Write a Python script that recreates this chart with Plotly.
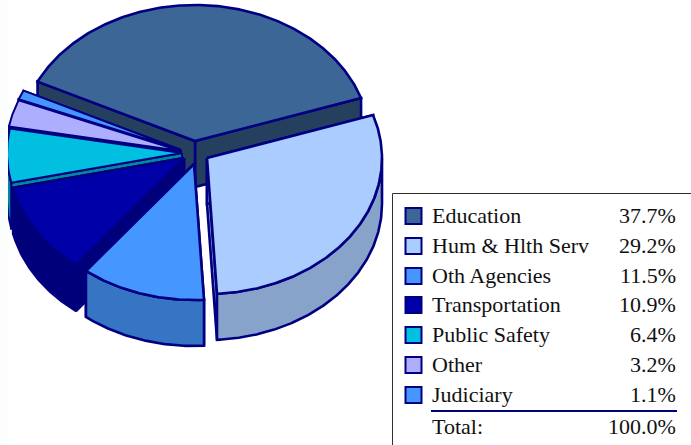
"""
Budget share by function: exploded 3D style pie with a table legend.
"""

import numpy as np
import plotly.graph_objects as go


# ==============================
# Data
# ==============================

labels = ["Education", "Hum & Hlth Serv", "Oth Agencies", "Transportation",
          "Public Safety", "Other", "Judiciary"]
shares = [37.7, 29.2, 11.5, 10.9, 6.4, 3.2, 1.1]
share_text = ["37.7%", "29.2%", "11.5%", "10.9%", "6.4%", "3.2%", "1.1%"]
total_label = "Total:"
total_text = "100.0%"

top_colors = ["#3B6696", "#AACCFF", "#4696FF", "#0000A8", "#00BFE0", "#AEAEFF", "#4696FF"]
wall_colors = ["#25405E", "#88A3C9", "#3675C3", "#00007A", "#008A9E", "#8080BE", "#3675C3"]

# where each slice's tip ends up after exploding, in page pixels
tip_x = [195, 207, 194, 184, 182, 181, 181]
tip_y = [141, 158, 164, 158, 153, 151, 150]

# ==============================
# Pie geometry
# ==============================

RX = 175
RY = 136
DEPTH = 46
START = 18.4
NAVY = "#000080"

# Education runs counter-clockwise from START, the legend order then
# continues clockwise from START, so walk the list backwards after it
angles = {}
a = START
for i in [0, 6, 5, 4, 3, 2, 1]:
    angles[labels[i]] = (a, a + shares[i] * 3.6)
    a += shares[i] * 3.6


def arc(i, t0, t1):
    t = np.radians(np.linspace(t0, t1, max(int(abs(t1 - t0)) * 2, 2)))
    return tip_x[i] + RX * np.cos(t), tip_y[i] - RY * np.sin(t)


def add_poly(fig, xs, ys, fill, width=2):
    fig.add_trace(go.Scatter(
        x=np.append(xs, xs[0]),
        y=np.append(ys, ys[0]),
        mode="lines",
        fill="toself",
        fillcolor=fill,
        line=dict(color=NAVY, width=width),
        hoverinfo="skip",
        showlegend=False,
    ))


def add_slice(fig, name):
    i = labels.index(name)
    t0, t1 = angles[name]
    width = 2 if shares[i] < 8 else 2.6

    # cut faces
    for t in (t0, t1):
        ex, ey = arc(i, t, t)
        xs = np.array([tip_x[i], ex[0], ex[0], tip_x[i]])
        ys = np.array([tip_y[i], ey[0], ey[0] + DEPTH, tip_y[i] + DEPTH])
        add_poly(fig, xs, ys, wall_colors[i], width)

    # outer wall, front half of the ellipse only
    for lo, hi in ((180, 360), (540, 720)):
        w0, w1 = max(t0, lo), min(t1, hi)
        if w1 > w0:
            ax, ay = arc(i, w0, w1)
            xs = np.concatenate([ax, ax[::-1]])
            ys = np.concatenate([ay, ay[::-1] + DEPTH])
            add_poly(fig, xs, ys, wall_colors[i], width)

    # top face
    ax, ay = arc(i, t0, t1)
    add_poly(fig, np.append(tip_x[i], ax), np.append(tip_y[i], ay), top_colors[i], width)


fig = go.Figure()

# painter's order, back to front
draw_order = ["Education", "Judiciary", "Other", "Public Safety",
              "Transportation", "Hum & Hlth Serv", "Oth Agencies"]
for name in draw_order:
    add_slice(fig, name)

# ==============================
# Legend table
# ==============================

FONT = "Liberation Serif"
row_y = [216, 246, 276, 305, 335, 365, 395]

fig.add_trace(go.Scatter(
    x=[413.5] * len(labels),
    y=row_y,
    mode="markers",
    marker=dict(symbol="square", size=16, color=top_colors,
                line=dict(color=NAVY, width=2)),
    hoverinfo="skip",
    showlegend=False,
))

notes = []
for name, txt, y in zip(labels + [total_label], share_text + [total_text], row_y + [427]):
    notes.append(dict(x=430, y=y - 1, text=name, xanchor="left", yanchor="middle",
                      showarrow=False))
    notes.append(dict(x=678, y=y - 1, text=txt, xanchor="right", yanchor="middle",
                      showarrow=False))

shapes = [
    dict(type="line", x0=392.5, x1=392.5, y0=193.5, y1=445, line=dict(color="#303030", width=1)),
    dict(type="line", x0=392.5, x1=691, y0=193.5, y1=193.5, line=dict(color="#303030", width=1)),
    dict(type="line", x0=431, x1=677, y0=411, y1=411, line=dict(color=NAVY, width=2)),
    # pale strip down the left edge, it cuts the pie off
    dict(type="rect", x0=0, x1=8, y0=0, y1=445, fillcolor="#FCFDFD", line=dict(width=0), layer="above"),
]

fig.update_layout(
    width=691,
    height=445,
    margin=dict(l=0, r=0, t=0, b=0),
    paper_bgcolor="white",
    plot_bgcolor="white",
    font=dict(family=FONT, size=22, color="#111111"),
    xaxis=dict(range=[0, 691], visible=False),
    yaxis=dict(range=[445, 0], visible=False),
    annotations=notes,
    shapes=shapes,
    showlegend=False,
)

fig.write_html("out.html", config=dict(displayModeBar=False),
               post_script="document.body.style.margin='0';")
